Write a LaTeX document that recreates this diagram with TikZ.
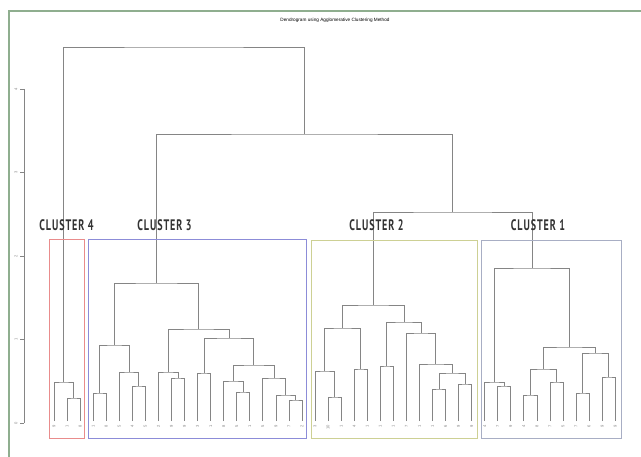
\documentclass[tikz,border=0pt]{standalone}
\usepackage{fontspec}
\setmainfont{Liberation Sans}
\newfontfamily\clusterfont[FakeStretch=0.66, LetterSpace=6]{PT Sans}
\usetikzlibrary{calc}
\definecolor{cframe}{HTML}{8FAE8F}
\definecolor{cline}{HTML}{858585}
\definecolor{cred}{HTML}{E98C8C}
\definecolor{cblue}{HTML}{8C8CD8}
\definecolor{colive}{HTML}{CDD094}
\definecolor{cslate}{HTML}{A8AEC4}
\tikzset{
  every picture/.style={x=0.03cm, y=-0.03cm},
  dend/.style={draw=cline, line width=0.6pt},
  clbox/.style={draw=#1, line width=0.7pt},
  cltitle/.style={font=\clusterfont\bfseries\fontsize{13}{13}\selectfont, text=black!80, inner sep=0pt},
  leaflab/.style={font=\fontsize{3.5}{4}\selectfont, text=cline, rotate=90, anchor=east, inner sep=0.5pt},
  ticklab/.style={font=\fontsize{3.5}{4}\selectfont, text=cline, rotate=90, inner sep=0pt},
}
\newcommand{\dmerge}[4]{%
  \path let \p1=(#2), \p2=(#3), \p3=(0,#4) in coordinate (#1) at ({(\x1+\x2)/2},\y3);%
  \draw[dend] (#2) |- (#1) -| (#3);}

\begin{document}
\begin{tikzpicture}
  \useasboundingbox[fill=white] (0,0) rectangle (641,457);
  \draw[cframe, line width=1.6pt] (9,457) -- (9,11) -- (641,11);
  \node[font=\fontsize{4}{5}\selectfont] (title) at (335,20) {Dendrogram using Agglomerative Clustering Method};

  \draw[dend] (24,89) -- (24,423);
  \foreach \v [count=\k from 0] in {0,1,2,3,4} {
    \draw[dend] (24,{423-83.5*\k}) -- ++(-4,0);
    \node[ticklab] (tick\k) at (16,{423-83.5*\k}) {\v};
  }

  \foreach \lab [count=\i] in {9,1,8,
      1,8,5,4,5,2,9,9,3,1,8,5,1,5,9,7,2,
      3,10,1,4,1,1,1,7,1,1,6,9,9,
      4,7,9,4,8,7,5,7,6,9,9} {
    \coordinate (l\i) at ({54+13.05*(\i-1)},421);
    \node[leaflab] (n\i) at ({54+13.05*(\i-1)},424) {\lab};
  }

  \dmerge{a1}{l2}{l3}{398}
  \dmerge{a2}{l1}{a1}{382}

  \dmerge{b1}{l4}{l5}{393}
  \dmerge{b2}{l7}{l8}{386}
  \dmerge{b3}{l6}{b2}{372}
  \dmerge{b4}{b1}{b3}{345}
  \dmerge{b5}{l10}{l11}{378}
  \dmerge{b6}{l9}{b5}{372}
  \dmerge{b7}{l12}{l13}{373}
  \dmerge{b8}{l15}{l16}{392}
  \dmerge{b9}{l14}{b8}{381}
  \dmerge{b10}{l19}{l20}{400}
  \dmerge{b11}{l18}{b10}{395}
  \dmerge{b12}{l17}{b11}{378}
  \dmerge{b13}{b9}{b12}{365}
  \dmerge{b14}{b7}{b13}{338}
  \dmerge{b15}{b6}{b14}{329}
  \dmerge{b16}{b4}{b15}{283}

  \dmerge{c1}{l22}{l23}{397}
  \dmerge{c2}{l21}{c1}{371}
  \dmerge{c3}{l24}{l25}{369}
  \dmerge{c4}{c2}{c3}{328}
  \dmerge{c5}{l26}{l27}{366}
  \dmerge{c6}{l30}{l31}{389}
  \dmerge{c7}{l32}{l33}{384}
  \dmerge{c8}{c6}{c7}{373}
  \dmerge{c9}{l29}{c8}{364}
  \dmerge{c10}{l28}{c9}{333}
  \dmerge{c11}{c5}{c10}{322}
  \dmerge{c12}{c4}{c11}{305}

  \dmerge{d1}{l35}{l36}{386}
  \dmerge{d2}{l34}{d1}{382}
  \dmerge{d3}{l37}{l38}{395}
  \dmerge{d4}{l39}{l40}{382}
  \dmerge{d5}{d3}{d4}{369}
  \dmerge{d6}{l41}{l42}{393}
  \dmerge{d7}{l43}{l44}{377}
  \dmerge{d8}{d6}{d7}{353}
  \dmerge{d9}{d5}{d8}{347}
  \dmerge{d10}{d2}{d9}{268}

  \dmerge{e1}{c12}{d10}{212}
  \dmerge{e2}{b16}{e1}{134}
  \dmerge{root}{a2}{e2}{47}

  \draw[clbox=cred] (49,239) rectangle (84,438);
  \draw[clbox=cblue] (88,239) rectangle (306,438);
  \draw[clbox=colive] (311,240) rectangle (477,438);
  \draw[clbox=cslate] (481,240) rectangle (621,438);
  \node[cltitle] (cl4) at (66.5,225) {CLUSTER 4};
  \node[cltitle] (cl3) at (164.5,225) {CLUSTER 3};
  \node[cltitle] (cl2) at (376.5,225) {CLUSTER 2};
  \node[cltitle] (cl1) at (538,225) {CLUSTER 1};
\end{tikzpicture}
\end{document}
